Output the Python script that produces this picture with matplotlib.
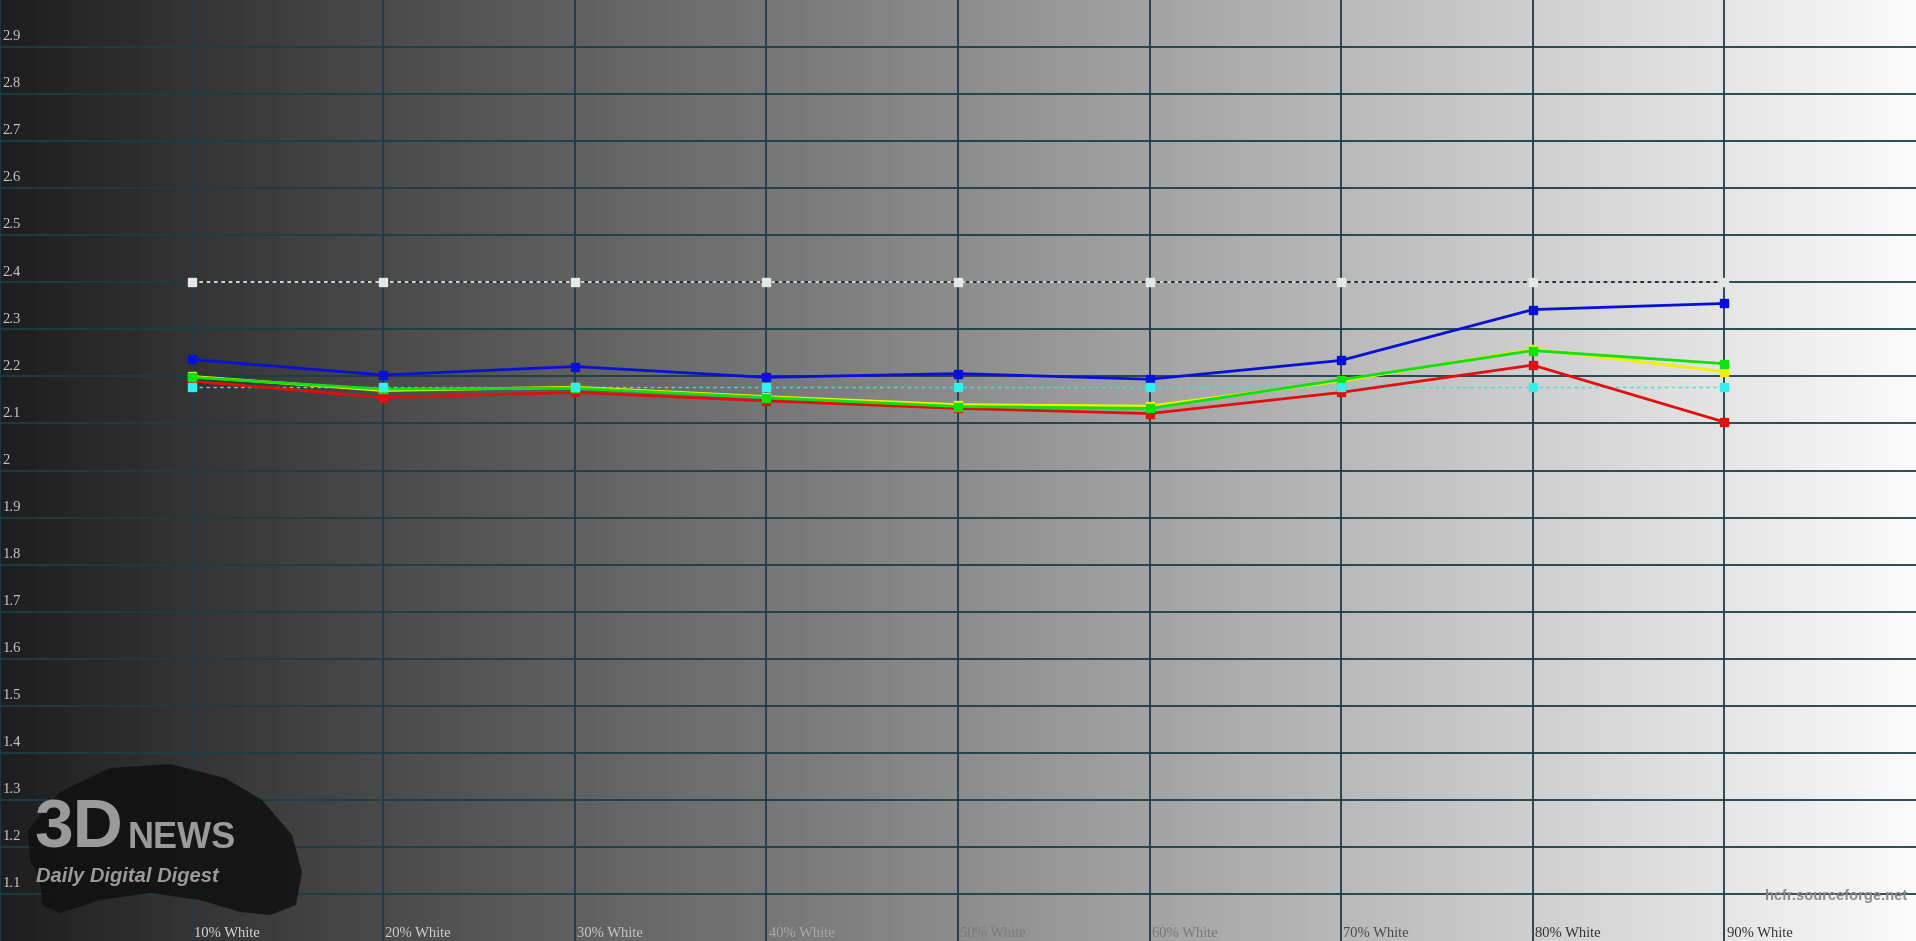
import matplotlib
matplotlib.use("Agg")
import matplotlib.pyplot as plt
import numpy as np

# measured levels (% white)
levels = [10, 20, 30, 40, 50, 60, 70, 80, 90]
level_labels = ["10% White", "20% White", "30% White", "40% White", "50% White",
                "60% White", "70% White", "80% White", "90% White"]
label_colors = ["#d8d8d8", "#d0d0d0", "#c8c8c8", "#a8a8a8", "#7a7a7a",
                "#787878", "#4a4a4a", "#333333", "#333333"]

# gamma values
target_gamma = [2.4] * 9
avg_gamma = [2.178] * 9
blue_gamma = [2.236, 2.203, 2.221, 2.198, 2.206, 2.194, 2.234, 2.342, 2.355]
yellow_gamma = [2.200, 2.170, 2.177, 2.157, 2.140, 2.137, 2.190, 2.258, 2.210]
green_gamma = [2.198, 2.173, 2.175, 2.155, 2.136, 2.132, 2.193, 2.255, 2.227]
red_gamma = [2.190, 2.155, 2.166, 2.148, 2.132, 2.121, 2.166, 2.224, 2.103]

y_ticks = [1.1, 1.2, 1.3, 1.4, 1.5, 1.6, 1.7, 1.8, 1.9, 2.0,
           2.1, 2.2, 2.3, 2.4, 2.5, 2.6, 2.7, 2.8, 2.9]

W, H = 1916, 941
fig = plt.figure(figsize=(W / 100, H / 100), dpi=100)
ax = fig.add_axes([0, 0, 1, 1])
ax.set_xlim(0, 100)
ax.set_ylim(1.0, 3.0)

# grey ramp background
ramp = np.linspace(30, 250, 600) / 255.0
bg = np.tile(ramp, (2, 1))
ax.imshow(bg, cmap="gray", vmin=0, vmax=1, extent=[0, 100, 1.0, 3.0],
          aspect="auto", zorder=0, interpolation="bilinear")

# grid
grid_c = "#1b3d45"
for v in y_ticks:
    ax.axhline(v, color=grid_c, lw=1.3, zorder=1)
for lv in [0] + levels:
    ax.axvline(lv, color=grid_c, lw=1.3, zorder=1)

# watermark (3DNews brush logo), in pixel-based helper coords
def px(x, y):
    return x / W * 100, 3.0 - y / H * 2.0

brush = [(28, 830), (60, 792), (110, 768), (170, 764), (225, 778), (262, 800),
         (292, 835), (302, 872), (296, 905), (270, 915), (240, 912), (200, 900),
         (150, 893), (100, 900), (60, 913), (42, 905), (40, 880), (30, 860)]
bx, by = zip(*[px(a, b) for a, b in brush])
ax.fill(bx, by, color="#101010", alpha=0.85, zorder=2, lw=0)
ax.text(*px(34, 847), "3D", fontsize=50, fontweight="bold", color="#9a9a9a",
        family="Liberation Sans", zorder=3, va="baseline")
ax.text(*px(128, 848), "NEWS", fontsize=26, fontweight="bold", color="#9a9a9a",
        family="Liberation Sans", zorder=3, va="baseline")
ax.text(*px(36, 882), "Daily Digital Digest", fontsize=14.5, fontweight="bold",
        style="italic", color="#9a9a9a", family="Liberation Sans", zorder=3,
        va="baseline")

ax.text(*px(1907, 900), "hcfr.sourceforge.net", fontsize=10.5, fontweight="bold",
        color="#8a8a8a", family="Liberation Sans", ha="right", va="baseline",
        zorder=3)

# target line (dark underlay + light dashes)
ax.plot(levels, target_gamma, color="#1e3238", lw=1.2, zorder=4)
ax.plot(levels, target_gamma, color="#f0f0f0", lw=1.2, dashes=(2.2, 2.2), zorder=4)
ax.plot(levels, target_gamma, ls="none", marker="s", ms=6, color="#e6e6e6",
        zorder=8)

# average line
ax.plot(levels, avg_gamma, color="#40e0e0", lw=1.0, dashes=(2.5, 2.5), zorder=4)

# channel curves
ax.plot(levels, yellow_gamma, color="#f0f000", lw=2.0, marker="s", ms=6, zorder=5)
ax.plot(levels, red_gamma, color="#e01010", lw=2.0, marker="s", ms=6, zorder=5)
ax.plot(levels, green_gamma, color="#10e010", lw=2.0, marker="s", ms=6, zorder=6)
ax.plot(levels, blue_gamma, color="#0a10d8", lw=2.0, marker="s", ms=6, zorder=6)
ax.plot(levels, avg_gamma, ls="none", marker="s", ms=6, color="#30f0f0", zorder=7)

# axis labels drawn inside the plot
for v in y_ticks:
    ax.text(0.15, v + 0.008, f"{v:g}", fontsize=10.5, color="#c8c8c8",
            family="Liberation Serif", ha="left", va="bottom", zorder=3)
for lv, lab, c in zip(levels, level_labels, label_colors):
    ax.text(lv + 0.12, 1.002, lab, fontsize=10.5, color=c,
            family="Liberation Serif", ha="left", va="bottom", zorder=3)

ax.set_axis_off()
fig.savefig("out.png", dpi=100)
